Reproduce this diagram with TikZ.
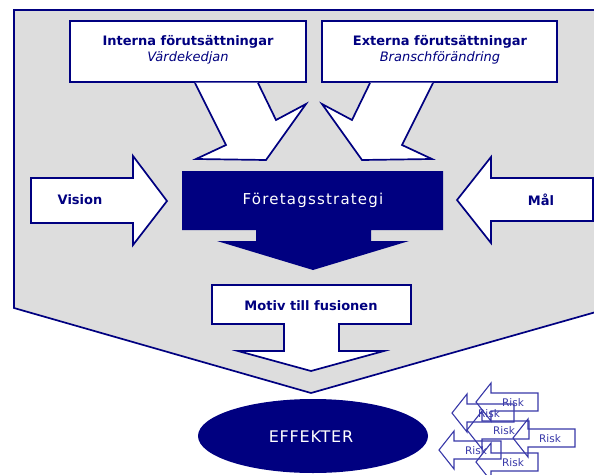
\documentclass[tikz,border=0pt]{standalone}
\usepackage{fontspec}
\setmainfont{DejaVu Sans}
\newfontfamily\spacedfont[LetterSpace=8]{DejaVu Sans}
\newfontfamily\effektfont[LetterSpace=5]{DejaVu Sans}
\usetikzlibrary{shapes.geometric}
\definecolor{navyc}{HTML}{000080}
\definecolor{greyc}{HTML}{DDDDDD}
\definecolor{riskc}{HTML}{3838A8}
\tikzset{
  outl/.style={draw=navyc, line width=1.7pt, line join=miter},
  lbl/.style={text=navyc, font=\fontsize{13}{15}\selectfont\bfseries, inner sep=0pt, align=center},
  sublbl/.style={text=navyc, font=\fontsize{13}{15}\selectfont, inner sep=0pt, align=center},
  riskline/.style={draw=riskc, line width=1.1pt, line join=miter},
  risktext/.style={text=riskc, font=\fontsize{10.5}{11}\selectfont, inner sep=0pt},
  riskarrow/.pic={
    \draw[riskline] (0,0) -- (15,-19) -- (15,-9) -- (62,-9) -- (62,9) -- (15,9) -- (15,19) -- cycle;
    \node[risktext] (-txt) at (37,0.5) {Risk};
  }
}
\begin{document}
\begin{tikzpicture}[x=1pt,y=-1pt]
\useasboundingbox (0,0) rectangle (594,474);
\clip (0,0) rectangle (594,474);
% big grey pentagon
\draw[outl, fill=greyc] (14,10) -- (610,10) -- (610,308) -- (311,393) -- (14,308) -- cycle;
% top boxes
\draw[outl, fill=white] (70,21) rectangle (306,82);
\draw[outl, fill=white] (322,21) rectangle (557,82);
\node[lbl] (intern) at (188,42) {Interna förutsättningar};
\node[sublbl, font=\fontsize{13}{15}\selectfont\itshape] (vk) at (188,58) {Värdekedjan};
\node[lbl] (extern) at (440,42) {Externa förutsättningar};
\node[sublbl, font=\fontsize{13}{15}\selectfont\itshape] (bf) at (440,58) {Branschförändring};
% arrows from top boxes
\fill[white] (195,82.5) -- (258,82.5) -- (276,120) -- (306,104) -- (266,160) -- (196,159) -- (226,145) -- cycle;
\draw[outl] (258,83) -- (276,120) -- (306,104) -- (266,160) -- (196,159) -- (226,145) -- (195,83);
\fill[white] (433,82.5) -- (370,82.5) -- (352,120) -- (322,104) -- (362,160) -- (432,159) -- (402,145) -- cycle;
\draw[outl] (370,83) -- (352,120) -- (322,104) -- (362,160) -- (432,159) -- (402,145) -- (433,83);
% Vision arrow
\draw[outl, fill=white] (31,178) -- (133,178) -- (133,156) -- (167,201) -- (133,245) -- (133,223) -- (31,223) -- cycle;
\node[lbl] (vision) at (80,200) {Vision};
% Mal arrow
\draw[outl, fill=white] (593,178) -- (491,178) -- (491,157) -- (457,200) -- (491,243) -- (491,221) -- (593,221) -- cycle;
\node[lbl] (mal) at (541,200) {Mål};
% Foretagsstrategi
\fill[navyc] (182,171) -- (443,171) -- (443,230) -- (371,230) -- (371,241) -- (409,241) -- (313,270) -- (217,241) -- (256,241) -- (256,230) -- (182,230) -- cycle;
\node[text=white, inner sep=0pt, font=\fontsize{15}{17}\spacedfont] (strat) at (313,200) {Företagsstrategi};
% Motiv
\draw[outl, fill=white] (212,285) -- (411,285) -- (411,324) -- (339,324) -- (339,351) -- (384,351) -- (311,371) -- (238,351) -- (284,351) -- (284,324) -- (212,324) -- cycle;
\node[lbl] (motiv) at (311,306) {Motiv till fusionen};
% Effekter
\node[ellipse, fill=navyc, minimum width=230pt, minimum height=74pt, inner sep=0pt] (eff) at (313,436) {};
\node[text=white, inner sep=0pt, font=\fontsize{16}{18}\effektfont] (efftxt) at (311,437) {EFFEKTER};
% Risk arrows
\pic (riskB) at (452,413) {riskarrow};
\pic (riskA) at (476,402) {riskarrow};
\pic (riskE) at (439,450) {riskarrow};
\pic (riskC) at (467,430) {riskarrow};
\pic (riskD) at (513,438) {riskarrow};
\pic (riskF) at (476,462) {riskarrow};
\end{tikzpicture}
\end{document}
